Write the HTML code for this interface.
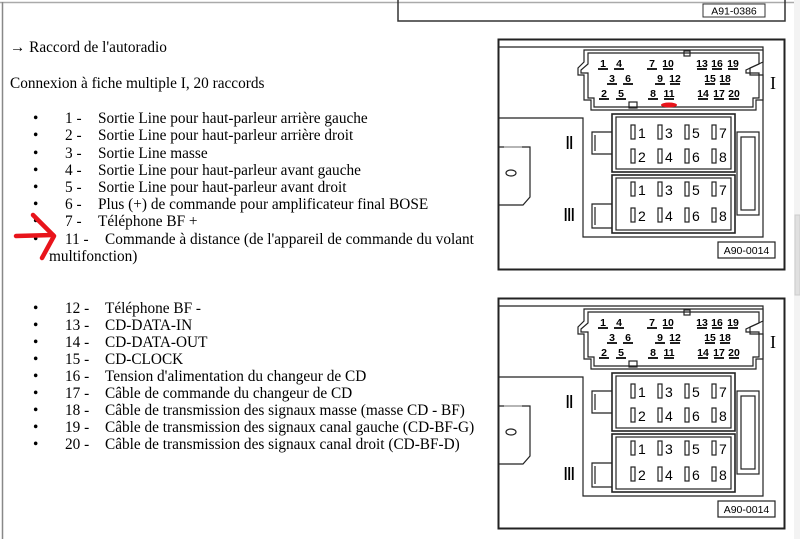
<!DOCTYPE html>
<html><head><meta charset="utf-8"><style>
html,body{margin:0;padding:0;background:#fff;width:800px;height:539px;overflow:hidden}
svg{position:absolute;left:0;top:0}
.t{font-family:"Liberation Serif",serif;font-size:15.3px;fill:#000}
.p{font-family:"Liberation Sans",sans-serif;font-size:10.5px;fill:#000}
.q{font-family:"Liberation Sans",sans-serif;font-size:14px;fill:#000}
.r{font-family:"Liberation Serif",serif;font-size:18px;fill:#000}
</style></head><body>
<svg width="800" height="539" viewBox="0 0 800 539" xmlns="http://www.w3.org/2000/svg">
<rect x="0" y="0" width="800" height="539" fill="#fff"/>
<line x1="0" y1="2.5" x2="794" y2="2.5" stroke="#aaa" stroke-width="1.5"/>
<line x1="2.5" y1="2" x2="2.5" y2="539" stroke="#888" stroke-width="1.5"/>
<rect x="794" y="0" width="6" height="539" fill="#f3f3f3"/>
<rect x="795" y="215" width="5" height="80" fill="#e0e0e0" stroke="#ccc"/>
<polyline points="398,0 398,21 785,21 785,0" fill="none" stroke="#333" stroke-width="1.5"/>
<rect x="703" y="4" width="62" height="13" fill="#fff" stroke="#333"/>
<text x="734" y="14.5" class="p" text-anchor="middle">A91-0386</text>

<g class="t">
<text x="10" y="52">→ Raccord de l'autoradio</text>
<text x="10" y="88">Connexion à fiche multiple I, 20 raccords</text>
</g>
<g class="t">
<text x="33" y="123">•</text><text x="65" y="123">1 -</text><text x="98" y="123">Sortie Line pour haut-parleur arrière gauche</text>
<text x="33" y="140">•</text><text x="65" y="140">2 -</text><text x="98" y="140">Sortie Line pour haut-parleur arrière droit</text>
<text x="33" y="158">•</text><text x="65" y="158">3 -</text><text x="98" y="158">Sortie Line masse</text>
<text x="33" y="175">•</text><text x="65" y="175">4 -</text><text x="98" y="175">Sortie Line pour haut-parleur avant gauche</text>
<text x="33" y="192">•</text><text x="65" y="192">5 -</text><text x="98" y="192">Sortie Line pour haut-parleur avant droit</text>
<text x="33" y="209">•</text><text x="65" y="209">6 -</text><text x="98" y="209">Plus (+) de commande pour amplificateur final BOSE</text>
<text x="33" y="226">•</text><text x="65" y="226">7 -</text><text x="98" y="226">Téléphone BF +</text>
<text x="33" y="244">•</text><text x="65" y="244">11 -</text><text x="105" y="244">Commande à distance (de l'appareil de commande du volant</text>
<text x="49" y="261">multifonction)</text>

<text x="33" y="313">•</text><text x="65" y="313">12 -</text><text x="105" y="313">Téléphone BF -</text>
<text x="33" y="330">•</text><text x="65" y="330">13 -</text><text x="105" y="330">CD-DATA-IN</text>
<text x="33" y="347">•</text><text x="65" y="347">14 -</text><text x="105" y="347">CD-DATA-OUT</text>
<text x="33" y="364">•</text><text x="65" y="364">15 -</text><text x="105" y="364">CD-CLOCK</text>
<text x="33" y="381">•</text><text x="65" y="381">16 -</text><text x="105" y="381">Tension d'alimentation du changeur de CD</text>
<text x="33" y="398">•</text><text x="65" y="398">17 -</text><text x="105" y="398">Câble de commande du changeur de CD</text>
<text x="33" y="415">•</text><text x="65" y="415">18 -</text><text x="105" y="415">Câble de transmission des signaux masse (masse CD - BF)</text>
<text x="33" y="432">•</text><text x="65" y="432">19 -</text><text x="105" y="432">Câble de transmission des signaux canal gauche (CD-BF-G)</text>
<text x="33" y="449">•</text><text x="65" y="449">20 -</text><text x="105" y="449">Câble de transmission des signaux canal droit (CD-BF-D)</text>
</g>
<g stroke="#e8141b" stroke-width="4.5" fill="none" stroke-linecap="round" stroke-linejoin="round">
<path d="M16,236 L53,235"/>
<path d="M33,215 L54,236 L42,258"/>
</g>

<g id="d1">
<g fill="none" stroke="#222" stroke-width="1.2">
<rect x="498.5" y="39.5" width="286" height="230" stroke-width="2"/>
<polyline points="499,47 763,47 763,237 583,237 583,118 499,118"/>
<path d="M499,147 L530,147 L530,197 L523,205 L499,205"/>
<line x1="504" y1="147" x2="522" y2="147" stroke="#aaa"/>
<ellipse cx="511" cy="173" rx="5" ry="3"/>
<polygon points="584,50 763,50 763,62 750,68 750,75 763,75 763,100 756,100 756,110 591,110 591,100 584,100 584,75 578,75 578,68 584,62" fill="#fff"/>
<polygon points="588,53 759,53 759,64 746,70 746,73 759,73 759,98 753,98 753,107 594,107 594,98 588,98 588,73 581,73 581,70 588,64"/>
<rect x="684" y="51" width="6" height="5"/>
<rect x="629" y="102" width="8" height="6"/>
<rect x="612" y="114" width="123" height="58" stroke-width="1.6"/>
<rect x="616" y="117" width="115" height="52"/>
<rect x="612" y="175" width="123" height="58" stroke-width="1.6"/>
<rect x="616" y="178" width="115" height="52"/>
<path d="M612,132 L592,132 L592,154 L612,154 M595,135 L595,151"/>
<path d="M612,204 L592,204 L592,228 L612,228 M595,207 L595,225"/>
<rect x="737" y="132" width="22" height="83"/>
<rect x="741" y="137" width="14" height="73"/>
<rect x="718" y="242" width="57" height="16" stroke-width="1.2"/>
</g>
<g fill="none" stroke="#222" stroke-width="1.2">
<rect x="631" y="125" width="4" height="14"/><rect x="658" y="125" width="4" height="14"/><rect x="685" y="125" width="4" height="14"/><rect x="712" y="125" width="4" height="14"/>
<rect x="631" y="149" width="4" height="14"/><rect x="658" y="149" width="4" height="14"/><rect x="685" y="149" width="4" height="14"/><rect x="712" y="149" width="4" height="14"/>
<rect x="631" y="182" width="4" height="14"/><rect x="658" y="182" width="4" height="14"/><rect x="685" y="182" width="4" height="14"/><rect x="712" y="182" width="4" height="14"/>
<rect x="631" y="208" width="4" height="14"/><rect x="658" y="208" width="4" height="14"/><rect x="685" y="208" width="4" height="14"/><rect x="712" y="208" width="4" height="14"/>
</g>
<g class="q">
<text x="638" y="138">1</text><text x="665" y="138">3</text><text x="692" y="138">5</text><text x="719" y="138">7</text>
<text x="638" y="162">2</text><text x="665" y="162">4</text><text x="692" y="162">6</text><text x="719" y="162">8</text>
<text x="638" y="195">1</text><text x="665" y="195">3</text><text x="692" y="195">5</text><text x="719" y="195">7</text>
<text x="638" y="221">2</text><text x="665" y="221">4</text><text x="692" y="221">6</text><text x="719" y="221">8</text>
</g>
<g class="r"><text x="770" y="89">I</text><text x="565" y="149">Ⅱ</text><text x="563" y="221">Ⅲ</text></g>
<text x="746.5" y="254" class="p" text-anchor="middle">A90-0014</text>
<g class="p" text-anchor="middle" font-weight="bold">
<text x="603" y="67">1</text><text x="619" y="67">4</text><text x="652" y="67">7</text><text x="668" y="67">10</text><text x="702" y="67">13</text><text x="717" y="67">16</text><text x="733" y="67">19</text>
<text x="612" y="82">3</text><text x="628" y="82">6</text><text x="660" y="82">9</text><text x="675" y="82">12</text><text x="710" y="82">15</text><text x="725" y="82">18</text>
<text x="604" y="97">2</text><text x="621" y="97">5</text><text x="653" y="97">8</text><text x="669" y="97">11</text><text x="703" y="97">14</text><text x="719" y="97">17</text><text x="734" y="97">20</text>
</g>
<g fill="#222">
<rect x="598" y="68" width="10" height="2"/><rect x="614" y="68" width="10" height="2"/><rect x="647" y="68" width="10" height="2"/><rect x="663" y="68" width="10" height="2"/><rect x="697" y="68" width="10" height="2"/><rect x="712" y="68" width="10" height="2"/><rect x="728" y="68" width="10" height="2"/>
<rect x="607" y="83" width="10" height="2"/><rect x="623" y="83" width="10" height="2"/><rect x="655" y="83" width="10" height="2"/><rect x="670" y="83" width="10" height="2"/><rect x="705" y="83" width="10" height="2"/><rect x="720" y="83" width="10" height="2"/>
<rect x="599" y="98" width="10" height="2"/><rect x="616" y="98" width="10" height="2"/><rect x="648" y="98" width="10" height="2"/><rect x="664" y="98" width="10" height="2"/><rect x="698" y="98" width="10" height="2"/><rect x="714" y="98" width="10" height="2"/><rect x="729" y="98" width="10" height="2"/>
</g>
</g>
<ellipse cx="669" cy="105" rx="8" ry="2.5" fill="#e8141b"/>

<g transform="translate(0,259)">
<g fill="none" stroke="#222" stroke-width="1.2">
<rect x="498.5" y="39.5" width="286" height="230" stroke-width="2"/>
<polyline points="499,47 763,47 763,237 583,237 583,118 499,118"/>
<path d="M499,147 L530,147 L530,197 L523,205 L499,205"/>
<line x1="504" y1="147" x2="522" y2="147" stroke="#aaa"/>
<ellipse cx="511" cy="173" rx="5" ry="3"/>
<polygon points="584,50 763,50 763,62 750,68 750,75 763,75 763,100 756,100 756,110 591,110 591,100 584,100 584,75 578,75 578,68 584,62" fill="#fff"/>
<polygon points="588,53 759,53 759,64 746,70 746,73 759,73 759,98 753,98 753,107 594,107 594,98 588,98 588,73 581,73 581,70 588,64"/>
<rect x="684" y="51" width="6" height="5"/>
<rect x="629" y="102" width="8" height="6"/>
<rect x="612" y="114" width="123" height="58" stroke-width="1.6"/>
<rect x="616" y="117" width="115" height="52"/>
<rect x="612" y="175" width="123" height="58" stroke-width="1.6"/>
<rect x="616" y="178" width="115" height="52"/>
<path d="M612,132 L592,132 L592,154 L612,154 M595,135 L595,151"/>
<path d="M612,204 L592,204 L592,228 L612,228 M595,207 L595,225"/>
<rect x="737" y="132" width="22" height="83"/>
<rect x="741" y="137" width="14" height="73"/>
<rect x="718" y="242" width="57" height="16" stroke-width="1.2"/>
</g>
<g fill="none" stroke="#222" stroke-width="1.2">
<rect x="631" y="125" width="4" height="14"/><rect x="658" y="125" width="4" height="14"/><rect x="685" y="125" width="4" height="14"/><rect x="712" y="125" width="4" height="14"/>
<rect x="631" y="149" width="4" height="14"/><rect x="658" y="149" width="4" height="14"/><rect x="685" y="149" width="4" height="14"/><rect x="712" y="149" width="4" height="14"/>
<rect x="631" y="182" width="4" height="14"/><rect x="658" y="182" width="4" height="14"/><rect x="685" y="182" width="4" height="14"/><rect x="712" y="182" width="4" height="14"/>
<rect x="631" y="208" width="4" height="14"/><rect x="658" y="208" width="4" height="14"/><rect x="685" y="208" width="4" height="14"/><rect x="712" y="208" width="4" height="14"/>
</g>
<g class="q">
<text x="638" y="138">1</text><text x="665" y="138">3</text><text x="692" y="138">5</text><text x="719" y="138">7</text>
<text x="638" y="162">2</text><text x="665" y="162">4</text><text x="692" y="162">6</text><text x="719" y="162">8</text>
<text x="638" y="195">1</text><text x="665" y="195">3</text><text x="692" y="195">5</text><text x="719" y="195">7</text>
<text x="638" y="221">2</text><text x="665" y="221">4</text><text x="692" y="221">6</text><text x="719" y="221">8</text>
</g>
<g class="r"><text x="770" y="89">I</text><text x="565" y="149">Ⅱ</text><text x="563" y="221">Ⅲ</text></g>
<text x="746.5" y="254" class="p" text-anchor="middle">A90-0014</text>
<g class="p" text-anchor="middle" font-weight="bold">
<text x="603" y="67">1</text><text x="619" y="67">4</text><text x="652" y="67">7</text><text x="668" y="67">10</text><text x="702" y="67">13</text><text x="717" y="67">16</text><text x="733" y="67">19</text>
<text x="612" y="82">3</text><text x="628" y="82">6</text><text x="660" y="82">9</text><text x="675" y="82">12</text><text x="710" y="82">15</text><text x="725" y="82">18</text>
<text x="604" y="97">2</text><text x="621" y="97">5</text><text x="653" y="97">8</text><text x="669" y="97">11</text><text x="703" y="97">14</text><text x="719" y="97">17</text><text x="734" y="97">20</text>
</g>
<g fill="#222">
<rect x="598" y="68" width="10" height="2"/><rect x="614" y="68" width="10" height="2"/><rect x="647" y="68" width="10" height="2"/><rect x="663" y="68" width="10" height="2"/><rect x="697" y="68" width="10" height="2"/><rect x="712" y="68" width="10" height="2"/><rect x="728" y="68" width="10" height="2"/>
<rect x="607" y="83" width="10" height="2"/><rect x="623" y="83" width="10" height="2"/><rect x="655" y="83" width="10" height="2"/><rect x="670" y="83" width="10" height="2"/><rect x="705" y="83" width="10" height="2"/><rect x="720" y="83" width="10" height="2"/>
<rect x="599" y="98" width="10" height="2"/><rect x="616" y="98" width="10" height="2"/><rect x="648" y="98" width="10" height="2"/><rect x="664" y="98" width="10" height="2"/><rect x="698" y="98" width="10" height="2"/><rect x="714" y="98" width="10" height="2"/><rect x="729" y="98" width="10" height="2"/>
</g>
</g>
</svg>
</body></html>
